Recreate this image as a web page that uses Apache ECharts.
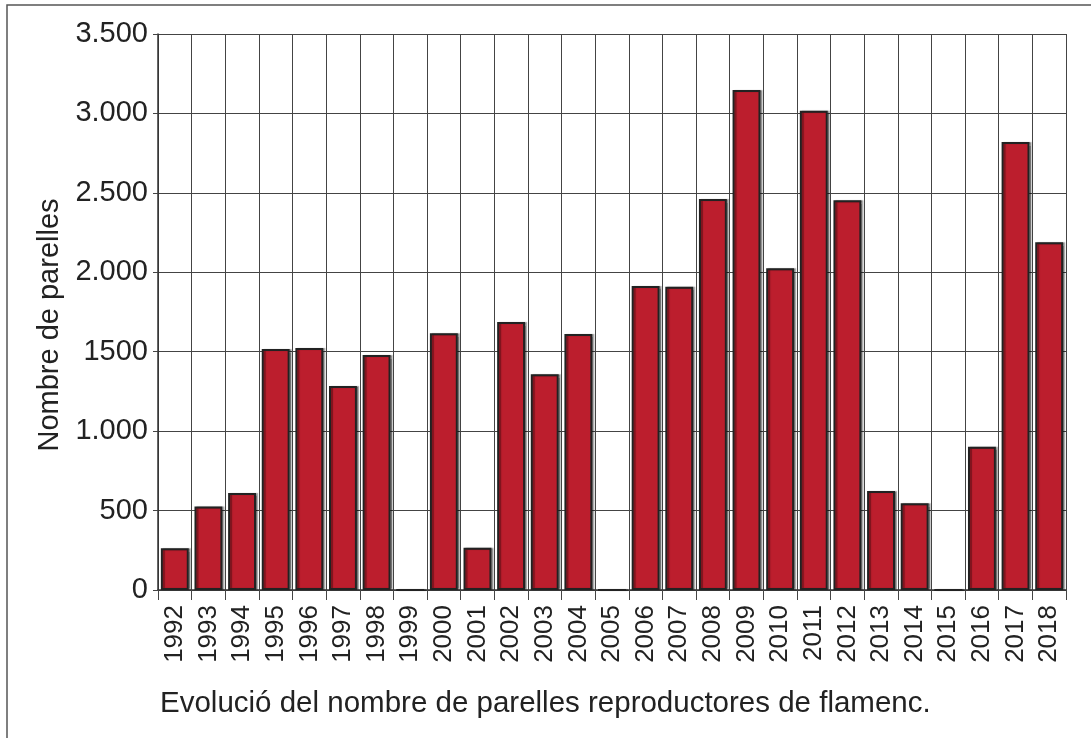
<!DOCTYPE html>
<html>
<head>
<meta charset="utf-8">
<title>Parelles de flamenc</title>
<script src="https://cdn.jsdelivr.net/npm/echarts@6/dist/echarts.min.js"></script>
<style>
  html, body { margin: 0; padding: 0; background: #fff; }
  #chart { width: 1091px; height: 738px; }
</style>
</head>
<body>
<div id="chart"></div>
<script>
// anys i nombre de parelles (llegit del gràfic)
const years = ['1992', '1993', '1994', '1995', '1996', '1997', '1998', '1999', '2000',
  '2001', '2002', '2003', '2004', '2005', '2006', '2007', '2008', '2009', '2010',
  '2011', '2012', '2013', '2014', '2015', '2016', '2017', '2018']
const parelles = [263, 525, 611, 1517, 1523, 1284, 1479, 0, 1616,
  266, 1687, 1358, 1612, 0, 1914, 1909, 2461, 3147, 2025,
  3017, 2453, 623, 546, 0, 902, 2820, 2189]
const yTicks = [0, 500, 1000, 1500, 2000, 2500, 3000, 3500]
const yTickLabels = ['0', '500', '1.000', '1500', '2.000', '2.500', '3.000', '3.500']

const textColor = '#222'
const font = 'Liberation Sans'

const option = {
  animation: false,
  title: {
    text: 'Evolució del nombre de parelles reproductores de flamenc.',
    left: 155,
    top: 684,
    textStyle: {
      fontFamily: font,
      fontSize: 29.5,
      fontWeight: 'normal',
      color: textColor
    }
  },
  graphic: [{
    type: 'rect',
    shape: { x: 7, y: 5, width: 2000, height: 2000 },
    style: { fill: 'none', stroke: '#555', lineWidth: 1.5 }
  }],
  grid: {
    left: 158,
    right: 25,
    top: 34,
    bottom: 148
  },
  xAxis: {
    type: 'category',
    data: years,
    axisLine: { lineStyle: { color: '#333', width: 1.5 } },
    axisTick: { show: true, length: 10, interval: 0, lineStyle: { color: '#444' } },
    axisLabel: {
      interval: 0,
      rotate: 90,
      margin: 15,
      fontFamily: font,
      fontSize: 26,
      color: textColor
    },
    splitLine: { show: true, interval: 0, lineStyle: { color: '#444', width: 1 } }
  },
  yAxis: {
    type: 'value',
    min: 0,
    max: 3500,
    interval: 500,
    name: 'Nombre de parelles',
    nameLocation: 'middle',
    nameRotate: 90,
    nameGap: 92,
    nameTextStyle: {
      fontFamily: font,
      fontSize: 29,
      color: textColor,
      padding: [0, 26, 0, 0]
    },
    axisLine: { show: true, lineStyle: { color: '#333', width: 1.5 } },
    axisTick: { show: true, length: 5, lineStyle: { color: '#444' } },
    axisLabel: {
      margin: 10,
      fontFamily: font,
      fontSize: 29,
      color: textColor,
      formatter: function (v) {
        const i = yTicks.indexOf(v)
        return i >= 0 ? yTickLabels[i] : ''
      }
    },
    splitLine: { show: true, lineStyle: { color: '#444', width: 1 } }
  },
  series: [{
    type: 'bar',
    data: parelles,
    barCategoryGap: '17%',
    itemStyle: {
      color: '#bc1e2d',
      borderColor: '#222',
      borderWidth: 2,
      shadowColor: 'rgba(0, 0, 0, 0.35)',
      shadowOffsetX: 2,
      shadowBlur: 1
    }
  }]
}

const chart = echarts.init(document.getElementById('chart'))
chart.setOption(option)
</script>
</body>
</html>
